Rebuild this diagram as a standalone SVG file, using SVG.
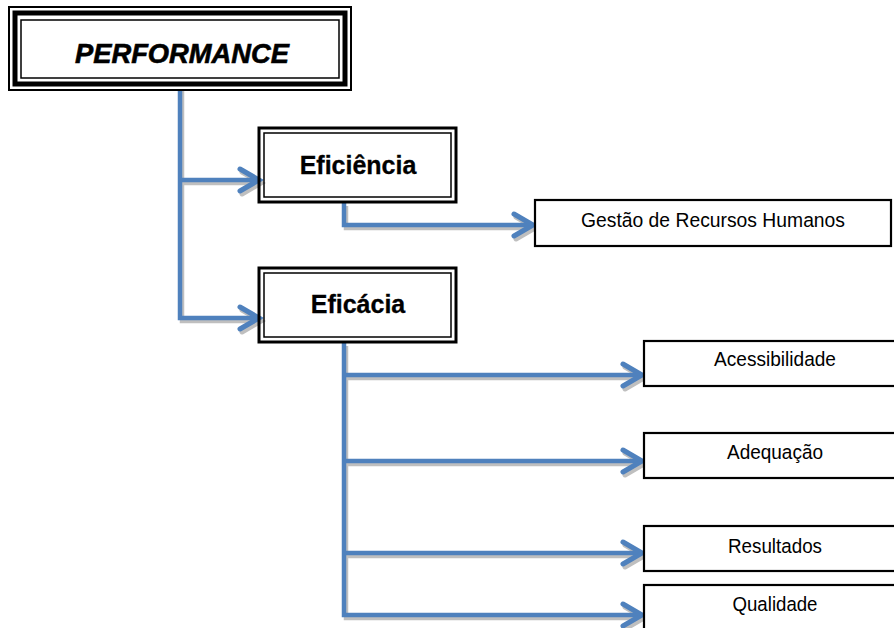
<svg xmlns="http://www.w3.org/2000/svg" width="894" height="628" viewBox="0 0 894 628">
  <style>
    .wire { fill: none; stroke: #4F81BD; stroke-width: 4.5; stroke-linejoin: miter; }
    .shade { fill: none; stroke: #BFBFBF; stroke-width: 4.5; }
    .tip { fill: none; stroke: #4F81BD; stroke-width: 5; stroke-linecap: round; stroke-linejoin: miter; }
    .tipshade { fill: none; stroke: #BFBFBF; stroke-width: 5; stroke-linecap: round; }
    .box { fill: #fff; stroke: #000; stroke-width: 2.2; }
    .heavy { fill: none; stroke: #000; stroke-width: 3; }
    .thin { fill: none; stroke: #000; stroke-width: 1.5; }
    .title { font-family: "Liberation Sans", Arial, sans-serif; font-weight: bold; font-style: italic; font-size: 27px; fill: #000; stroke: #000; stroke-width: 0.6; }
    .head { font-family: "Liberation Sans", Arial, sans-serif; font-weight: bold; font-size: 25px; fill: #000; stroke: #000; stroke-width: 0.3; }
    .leaf { font-family: "Liberation Sans", Arial, sans-serif; font-size: 20.5px; fill: #000; }
  </style>
  <defs>
    <path id="chev" d="M -19 -11 L 0 0 L -19 11"/>
  </defs>
  <rect width="894" height="628" fill="#fff"/>

  <!-- connectors -->
  <g id="connectors">
    <!-- soft shadows -->
    <g transform="translate(2,3)">
      <path class="shade" d="M 180 86 V 318 H 258 M 180 180 H 258"/>
      <path class="shade" d="M 344 203 V 225 H 533"/>
      <path class="shade" d="M 344 343 V 615 H 642 M 344 375 H 642 M 344 461 H 642 M 344 553 H 642"/>
      <use href="#chev" class="tipshade" x="259" y="180"/>
      <use href="#chev" class="tipshade" x="259" y="318"/>
      <use href="#chev" class="tipshade" x="533" y="225"/>
      <use href="#chev" class="tipshade" x="642" y="375"/>
      <use href="#chev" class="tipshade" x="642" y="461"/>
      <use href="#chev" class="tipshade" x="642" y="553"/>
      <use href="#chev" class="tipshade" x="642" y="615"/>
    </g>
    <path class="wire" d="M 180 86 V 318 H 256 M 180 180 H 256"/>
    <path class="wire" d="M 344 203 V 225 H 531"/>
    <path class="wire" d="M 344 343 V 615 H 640 M 344 375 H 640 M 344 461 H 640 M 344 553 H 640"/>
    <use href="#chev" class="tip" x="259" y="180"/>
    <use href="#chev" class="tip" x="259" y="318"/>
    <use href="#chev" class="tip" x="533" y="225"/>
    <use href="#chev" class="tip" x="642" y="375"/>
    <use href="#chev" class="tip" x="642" y="461"/>
    <use href="#chev" class="tip" x="642" y="553"/>
    <use href="#chev" class="tip" x="642" y="615"/>
  </g>

  <!-- root node -->
  <g id="performance">
    <rect x="9" y="7" width="342" height="83" fill="#fff" stroke="#000" stroke-width="2"/>
    <rect x="15" y="13" width="330" height="71" fill="none" stroke="#000" stroke-width="5"/>
    <rect x="21" y="20" width="318" height="58" fill="none" stroke="#000" stroke-width="1.5"/>
    <text class="title" x="182" y="63" text-anchor="middle" textLength="214" lengthAdjust="spacingAndGlyphs">PERFORMANCE</text>
  </g>

  <g id="eficiencia">
    <rect x="259" y="128" width="197" height="74" fill="#fff" class="heavy"/>
    <rect x="264" y="133" width="187" height="64" class="thin"/>
    <text class="head" x="358" y="174" text-anchor="middle">Eficiência</text>
  </g>

  <g id="eficacia">
    <rect x="259" y="268" width="197" height="74" fill="#fff" class="heavy"/>
    <rect x="264" y="273" width="187" height="64" class="thin"/>
    <text class="head" x="358" y="313" text-anchor="middle">Eficácia</text>
  </g>

  <g id="gestao">
    <rect class="box" x="535" y="200" width="356" height="46"/>
    <text class="leaf" x="713" y="227" text-anchor="middle" textLength="264" lengthAdjust="spacingAndGlyphs">Gestão de Recursos Humanos</text>
  </g>

  <g id="acessibilidade">
    <rect class="box" x="644" y="341" width="252" height="45"/>
    <text class="leaf" x="775" y="366" text-anchor="middle" textLength="122" lengthAdjust="spacingAndGlyphs">Acessibilidade</text>
  </g>

  <g id="adequacao">
    <rect class="box" x="644" y="433" width="252" height="45"/>
    <text class="leaf" x="775" y="459" text-anchor="middle" textLength="96" lengthAdjust="spacingAndGlyphs">Adequação</text>
  </g>

  <g id="resultados">
    <rect class="box" x="644" y="526" width="252" height="45"/>
    <text class="leaf" x="775" y="553" text-anchor="middle" textLength="94" lengthAdjust="spacingAndGlyphs">Resultados</text>
  </g>

  <g id="qualidade">
    <rect class="box" x="644" y="585" width="252" height="50"/>
    <text class="leaf" x="775" y="611" text-anchor="middle" textLength="85" lengthAdjust="spacingAndGlyphs">Qualidade</text>
  </g>
</svg>
